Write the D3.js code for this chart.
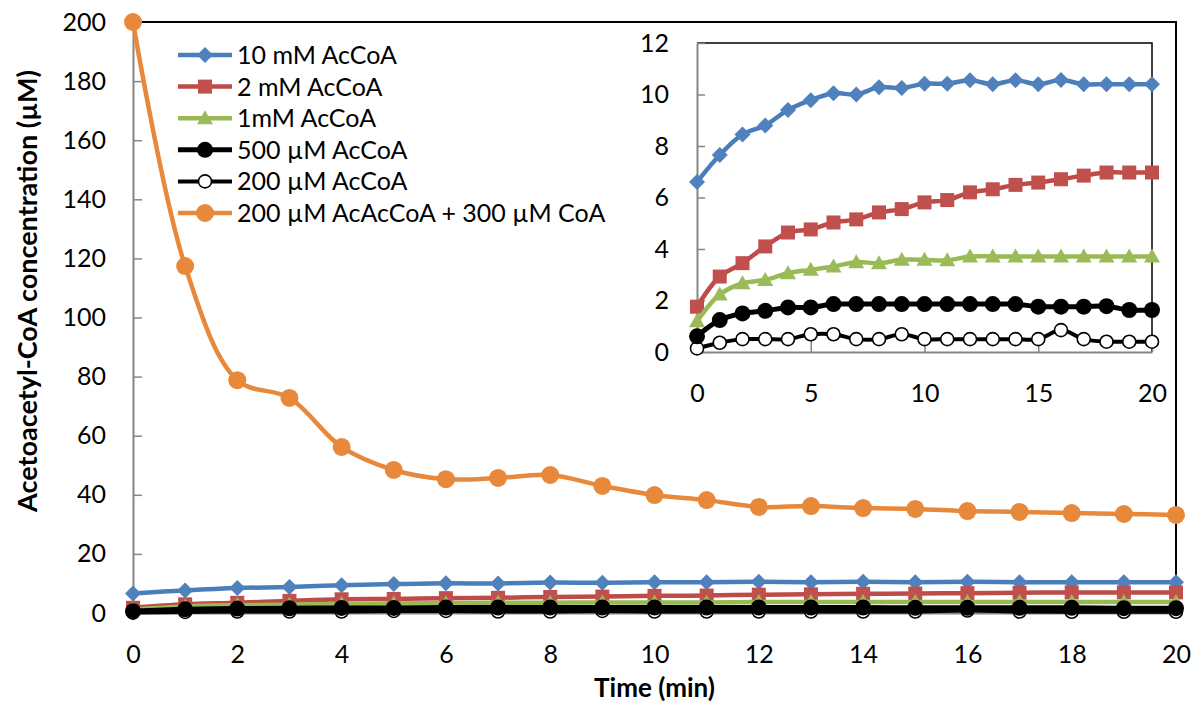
<!DOCTYPE html>
<html>
<head>
<meta charset="utf-8">
<script src="https://cdn.jsdelivr.net/npm/d3@7"></script>
<style>
  body { margin: 0; background: #fff; }
  text { font-family: Lato, "Open Sans", sans-serif; fill: #000; }
</style>
</head>
<body>
<div id="chart"></div>
<script>
// Data (concentration in µM vs time in min)
const time = [0, 1, 2, 3, 4, 5, 6, 7, 8, 9, 10, 11, 12, 13, 14, 15, 16, 17, 18, 19, 20];
const ac10mM = [6.6, 7.65, 8.45, 8.8, 9.4, 9.78, 10.05, 10.0, 10.28, 10.25, 10.42, 10.42, 10.55, 10.4, 10.55, 10.4, 10.56, 10.4, 10.4, 10.4, 10.4];
const ac2mM = [1.76, 2.93, 3.45, 4.1, 4.64, 4.76, 5.03, 5.15, 5.42, 5.55, 5.81, 5.9, 6.2, 6.32, 6.49, 6.58, 6.71, 6.85, 6.97, 6.97, 6.97];
const ac1mM = [1.19, 2.23, 2.67, 2.8, 3.06, 3.19, 3.32, 3.49, 3.45, 3.58, 3.58, 3.56, 3.71, 3.71, 3.71, 3.71, 3.71, 3.71, 3.71, 3.71, 3.71];
const ac500uM = [0.61, 1.24, 1.5, 1.6, 1.73, 1.73, 1.86, 1.86, 1.86, 1.86, 1.86, 1.86, 1.86, 1.86, 1.86, 1.76, 1.76, 1.76, 1.78, 1.63, 1.63];
const ac200uM = [0.14, 0.36, 0.5, 0.5, 0.5, 0.69, 0.69, 0.5, 0.5, 0.69, 0.5, 0.5, 0.5, 0.5, 0.5, 0.5, 0.85, 0.5, 0.4, 0.4, 0.4];
const acacCoA = [200, 117.4, 78.8, 72.8, 56.2, 48.4, 45.3, 45.7, 46.7, 43.0, 39.9, 38.2, 35.9, 36.2, 35.5, 35.2, 34.5, 34.2, 33.8, 33.5, 33.2];

const seriesNames = ["10 mM AcCoA", "2 mM AcCoA", "1mM AcCoA", "500 µM AcCoA", "200 µM AcCoA", "200 µM AcAcCoA + 300 µM CoA"];
const mainTicksY = [0, 20, 40, 60, 80, 100, 120, 140, 160, 180, 200];
const mainTicksX = [0, 2, 4, 6, 8, 10, 12, 14, 16, 18, 20];
const insetTicksY = [0, 2, 4, 6, 8, 10, 12];
const insetTicksX = [0, 5, 10, 15, 20];

// series styling
const series = [
  { name: seriesNames[0], values: ac10mM, color: "#4A7EBB", fill: "#4F81BD", marker: "diamond", width: 4.5 },
  { name: seriesNames[1], values: ac2mM, color: "#BE4B48", fill: "#C0504D", marker: "square", width: 4.5 },
  { name: seriesNames[2], values: ac1mM, color: "#98B954", fill: "#9BBB59", marker: "triangle", width: 4.5 },
  { name: seriesNames[3], values: ac500uM, color: "#000", fill: "#000", marker: "circle", width: 5 },
  { name: seriesNames[4], values: ac200uM, color: "#000", fill: "#fff", marker: "open", width: 4 },
  { name: seriesNames[5], values: acacCoA, color: "#E8883A", fill: "#E8883A", marker: "big", width: 4.5 }
];
// plotting order: the open circles sit under the filled ones
const drawOrder = [0, 1, 2, 4, 3, 5];

const W = 1195, H = 702;
const svg = d3.select("#chart").append("svg")
  .attr("width", W).attr("height", H);

const axisGray = "#868686";

function drawMarker(g, type, s, cx, cy) {
  if (type === "diamond") {
    g.append("path").attr("d", `M${cx},${cy - 8}L${cx + 8},${cy}L${cx},${cy + 8}L${cx - 8},${cy}Z`)
      .attr("fill", s.fill);
  } else if (type === "square") {
    g.append("rect").attr("x", cx - 7).attr("y", cy - 7).attr("width", 14).attr("height", 14)
      .attr("fill", s.fill);
  } else if (type === "triangle") {
    g.append("path").attr("d", `M${cx},${cy - 8}L${cx + 8},${cy + 6}L${cx - 8},${cy + 6}Z`)
      .attr("fill", s.fill);
  } else if (type === "circle") {
    g.append("circle").attr("cx", cx).attr("cy", cy).attr("r", 8).attr("fill", "#000");
  } else if (type === "open") {
    g.append("circle").attr("cx", cx).attr("cy", cy).attr("r", 6.5)
      .attr("fill", "#fff").attr("stroke", "#000").attr("stroke-width", 1.6);
  } else {
    g.append("circle").attr("cx", cx).attr("cy", cy).attr("r", 9).attr("fill", s.fill);
  }
}

function drawSeries(g, x, y) {
  const line = d3.line()
    .x((d, i) => x(time[i]))
    .y(d => y(d))
    .curve(d3.curveCatmullRom.alpha(0.5));
  drawOrder.map(k => series[k]).forEach(s => {
    g.append("path")
      .datum(s.values)
      .attr("d", line)
      .attr("fill", "none")
      .attr("stroke", s.color)
      .attr("stroke-width", s.width)
      .attr("stroke-linejoin", "round");
    s.values.forEach((v, i) => drawMarker(g, s.marker, s, x(time[i]), y(v)));
  });
}

function styleAxis(g) {
  g.select(".domain").attr("stroke", axisGray).attr("stroke-width", 2);
  g.selectAll(".tick line").attr("stroke", axisGray).attr("stroke-width", 1.5);
  g.selectAll(".tick text")
    .attr("font-family", "Lato, 'Open Sans', sans-serif")
    .attr("font-size", 25)
    .attr("fill", "#000");
  g.attr("font-family", null).attr("font-size", null);
}

// ---------- main chart ----------
const x = d3.scaleLinear().domain([0, 20]).range([133, 1176]);
const y = d3.scaleLinear().domain([0, 200]).range([613, 22]);

const main = svg.append("g");

// top and right frame
main.append("path")
  .attr("d", `M${x(0)},${y(200)}H${x(20)}V${y(0)}`)
  .attr("fill", "none").attr("stroke", "#000").attr("stroke-width", 2);

main.append("g")
  .attr("transform", `translate(${x(0)},0)`)
  .call(d3.axisLeft(y).tickValues(mainTicksY).tickSizeInner(-9).tickSizeOuter(0).tickPadding(27))
  .call(styleAxis);

main.append("g")
  .attr("transform", `translate(0,${y(0)})`)
  .call(d3.axisBottom(x).tickValues(mainTicksX).tickSizeInner(-9).tickSizeOuter(0).tickPadding(32))
  .call(styleAxis);

drawSeries(main.append("g"), x, y);

// axis titles
main.append("text")
  .attr("x", (x(0) + x(20)) / 2).attr("y", 697)
  .attr("text-anchor", "middle")
  .attr("font-size", 26).attr("font-weight", "bold")
  .text("Time (min)");

main.append("text")
  .attr("transform", "translate(37,291) rotate(-90)")
  .attr("text-anchor", "middle")
  .attr("font-size", 27).attr("font-weight", "bold")
  .text("Acetoacetyl-CoA concentration (µM)");

// legend
const legend = main.append("g");
series.forEach((s, i) => {
  const ly = 55 + i * 31.6;
  const row = legend.append("g");
  row.append("line")
    .attr("x1", 178).attr("x2", 232).attr("y1", ly).attr("y2", ly)
    .attr("stroke", s.color).attr("stroke-width", s.width);
  drawMarker(row, s.marker, s, 205, ly);
  row.append("text")
    .attr("x", 237).attr("y", ly + 9)
    .attr("font-size", 25)
    .text(s.name);
});

// ---------- inset ----------
const xi = d3.scaleLinear().domain([0, 20]).range([697, 1152]);
const yi = d3.scaleLinear().domain([0, 12]).range([352, 43]);

const inset = svg.append("g");

inset.append("path")
  .attr("d", `M${xi(0)},${yi(12)}H${xi(20)}V${yi(0)}`)
  .attr("fill", "none").attr("stroke", "#000").attr("stroke-width", 1.5);

inset.append("g")
  .attr("transform", `translate(${xi(0)},0)`)
  .call(d3.axisLeft(yi).tickValues(insetTicksY).tickSizeInner(-8).tickSizeOuter(0).tickPadding(28))
  .call(styleAxis);

inset.append("g")
  .attr("transform", `translate(0,${yi(0)})`)
  .call(d3.axisBottom(xi).tickValues(insetTicksX).tickSizeInner(-12).tickSizeOuter(0).tickPadding(32))
  .call(styleAxis);

drawSeries(inset.append("g"), xi, yi);
</script>
</body>
</html>
